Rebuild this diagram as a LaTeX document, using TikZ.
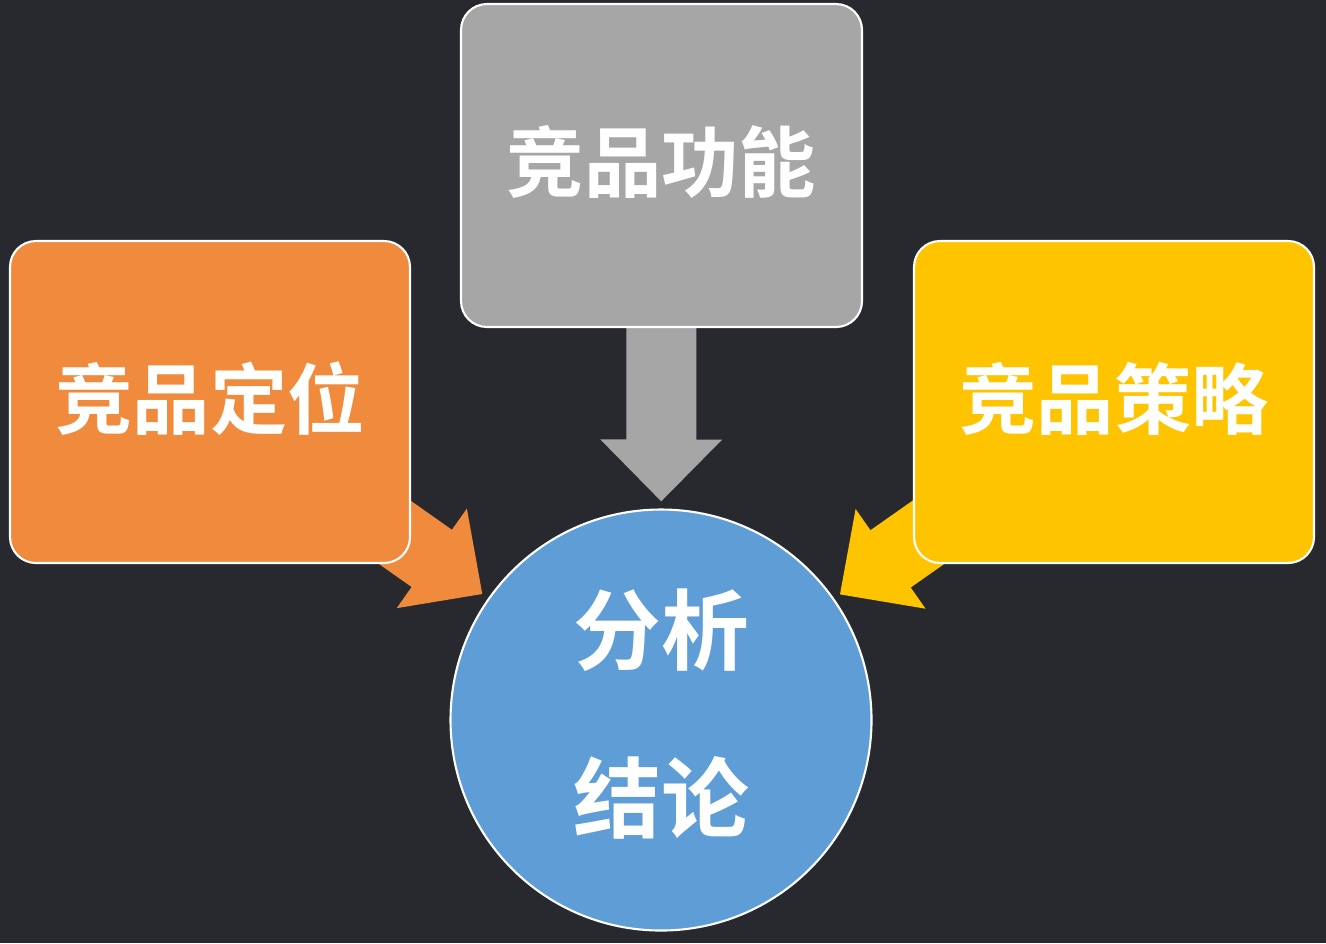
\documentclass[tikz,border=0pt]{standalone}
\usepackage{fontspec}
\newfontfamily\cjk{Noto Sans CJK SC}[BoldFont={Noto Sans CJK SC Bold}]
\usepackage{tikz}
\usetikzlibrary{arrows.meta,positioning,backgrounds}
\definecolor{bgdark}{HTML}{28292F}
\definecolor{korange}{HTML}{F08A3C}
\definecolor{kgray}{HTML}{A6A6A6}
\definecolor{kyellow}{HTML}{FFC400}
\definecolor{kblue}{HTML}{5E9DD6}

\begin{document}
\begin{tikzpicture}[
  box/.style={draw=white,line width=0.6pt,rounded corners=0.26cm,minimum width=4cm,minimum height=3.22cm,
    text=white,font=\cjk\bfseries\fontsize{22}{26}\selectfont},
  res/.style={circle,draw=white,line width=0.6pt,fill=kblue,minimum size=4.21cm,outer sep=0.08cm,
    text=white,align=center,text depth=0.2cm,font=\cjk\bfseries\fontsize{25}{48}\selectfont},
  blk/.style={line width=0.7cm,-{Triangle[width=1.18cm,length=0.62cm]}}]
  \useasboundingbox (0,0) rectangle (13.26,-9.43);
  \node[res] (ana) at (6.61,-7.2) {分析\\结论};
  \node[box,fill=korange] (pos) at (2.1,-4.02) {\raisebox{4pt}{竞品定位}};
  \node[box,fill=kgray,minimum width=4.01cm,minimum height=3.23cm] (fun) at (6.615,-1.655) {\raisebox{4pt}{竞品功能}};
  \node[box,fill=kyellow] (stra) at (11.14,-4.02) {\raisebox{4pt}{竞品策略}};
  \begin{pgfonlayer}{background}
    \fill[bgdark] (0,0) rectangle (13.26,-9.43);
    \draw[blk,korange] (pos.center) -- (ana);
    \draw[blk,kgray] (fun.center) -- (ana);
    \draw[blk,kyellow] (stra.center) -- (ana);
  \end{pgfonlayer}
\end{tikzpicture}
\end{document}
